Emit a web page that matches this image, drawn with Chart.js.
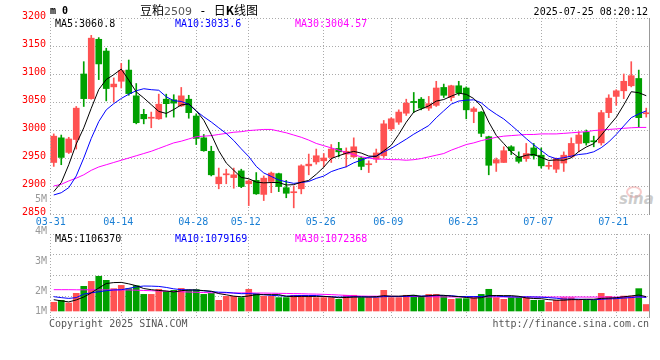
<!DOCTYPE html>
<html>
<head>
<meta charset="utf-8">
<script src="https://cdn.jsdelivr.net/npm/chart.js@4.4.1/dist/chart.umd.min.js"></script>
<style>
body { margin: 0; background: #fff; }
#wrap { position: relative; width: 660px; height: 360px; overflow: hidden; font-family: 'DejaVu Sans Mono', monospace; font-size: 10px; line-height: 10px; }
.t { position: absolute; white-space: pre; }
canvas { position: absolute; left: 0; }
</style>
</head>
<body>
<div id="wrap">
  <!-- sina watermark, under the charts -->
  <div class="t" style="left:626px;top:186px;width:12px;height:8px;border:2px solid rgba(240,160,160,0.55);border-radius:50%"></div>
  <div class="t" style="left:619px;top:192px;font:italic bold 15px 'DejaVu Sans',sans-serif;line-height:15px;color:rgba(170,170,170,0.6)">sina</div>

  <canvas id="priceChart" width="660" height="232" style="top:0"></canvas>
  <canvas id="volChart" width="660" height="128" style="top:232px"></canvas>

  <div class="t" style="left:50px;top:6px;font-weight:bold">m 0</div>
  <div class="t" style="left:140px;top:3px;line-height:14px;font-family:'Noto Sans CJK SC';font-size:12px;color:#000">豆粕<span style="font:11px 'DejaVu Sans',sans-serif;color:#555">2509</span><span style="font:12px 'DejaVu Sans Mono',monospace"> - </span>日<b>K</b>线图</div>
  <div class="t" style="right:12px;top:7px">2025-07-25 08:20:12</div>

  <div class="t" id="maMain0" style="left:55px;top:19px;color:#000"></div>
  <div class="t" id="maMain1" style="left:175px;top:19px;color:#0000ff"></div>
  <div class="t" id="maMain2" style="left:295px;top:19px;color:#ff00ff"></div>

  <div class="t" id="maVol0" style="left:55px;top:234px;color:#000"></div>
  <div class="t" id="maVol1" style="left:175px;top:234px;color:#0000ff"></div>
  <div class="t" id="maVol2" style="left:295px;top:234px;color:#ff00ff"></div>

  <div class="t" id="volLab0" style="right:613px;top:194px;color:#999"></div>
  <div class="t" id="volLab1" style="right:613px;top:226px;color:#999"></div>
  <div class="t" id="volLab2" style="right:613px;top:256px;color:#999"></div>
  <div class="t" id="volLab3" style="right:613px;top:286px;color:#999"></div>
  <div class="t" id="volLab4" style="right:613px;top:306px;color:#999"></div>

  <div class="t" style="left:49px;top:319px;color:#555">Copyright 2025 SINA.COM</div>
  <div class="t" style="right:11px;top:319px;color:#555">http://finance.sina.com.cn</div>
</div>

<script>
// trading days 2025-03-31 .. 2025-07-25
const dates = [
    '03-31','04-01','04-02','04-03','04-07','04-08','04-09','04-10','04-11',
    '04-14','04-15','04-16','04-17','04-18','04-21','04-22','04-23','04-24','04-25',
    '04-28','04-29','04-30','05-06','05-07','05-08','05-09',
    '05-12','05-13','05-14','05-15','05-16','05-19','05-20','05-21','05-22','05-23',
    '05-26','05-27','05-28','05-29','05-30','06-03','06-04','06-05','06-06',
    '06-09','06-10','06-11','06-12','06-13','06-16','06-17','06-18','06-19','06-20',
    '06-23','06-24','06-25','06-26','06-27','06-30','07-01','07-02','07-03','07-04',
    '07-07','07-08','07-09','07-10','07-11','07-14','07-15','07-16','07-17','07-18',
    '07-21','07-22','07-23','07-24','07-25'
];
const axisDates = ['03-31','04-14','04-28','05-12','05-26','06-09','06-23','07-07','07-21'];

const opens = [2942,2986,2960,2983,3100,3056,3162,3141,3077,3087,
    3107,3061,3028,3021,3020,3055,3054,3043,3055,3025,
    2986,2962,2904,2920,2915,2927,2904,2910,2885,2908,
    2922,2897,2888,2895,2936,2943,2945,2951,2967,2957,
    2952,2950,2938,2948,2954,3002,3014,3030,3051,3055,
    3039,3044,3076,3058,3079,3075,3033,3032,2988,2941,
    2942,2970,2952,2949,2968,2955,2935,2930,2941,2952,
    2976,2996,2980,2977,3031,3060,3070,3079,3092,3029];
const highs = [2993,2991,2987,3042,3122,3169,3165,3146,3093,3119,
    3125,3083,3037,3032,3064,3064,3063,3076,3062,3029,
    2992,2971,2932,2930,2932,2930,2911,2924,2918,2925,
    2923,2910,2900,2938,2957,2966,2958,2974,2978,2968,
    2986,2952,2945,2966,3017,3022,3036,3055,3067,3058,
    3060,3087,3082,3080,3087,3077,3041,3033,2989,2950,
    2970,2972,2961,2976,2976,2968,2943,2950,2961,2986,
    2997,3000,2989,3035,3063,3072,3100,3122,3107,3039];
const lows = [2935,2938,2958,2966,3042,3055,3090,3052,3050,3075,
    3062,3011,3011,3004,3019,3023,3023,3042,3021,2974,
    2962,2918,2895,2904,2896,2897,2865,2885,2874,2888,
    2890,2879,2861,2886,2920,2939,2934,2942,2952,2934,
    2951,2929,2924,2942,2951,2999,3010,3026,3031,3036,
    3035,3042,3058,3052,3062,3020,3013,2988,2920,2926,
    2942,2956,2941,2944,2948,2932,2930,2924,2926,2951,
    2961,2973,2970,2973,3022,3044,3056,3077,3005,3023];
const closes = [2989,2951,2984,3039,3056,3164,3118,3074,3082,3106,
    3065,3013,3020,3022,3046,3047,3048,3061,3031,2985,
    2963,2920,2916,2921,2920,2899,2909,2886,2914,2923,
    2899,2887,2889,2936,2939,2954,2950,2966,2961,2962,
    2970,2935,2939,2959,3011,3020,3032,3048,3049,3039,
    3047,3075,3062,3079,3066,3036,3038,2994,2937,2947,
    2963,2963,2944,2958,2954,2936,2936,2949,2955,2976,
    2991,2977,2979,3031,3057,3070,3087,3097,3022,3030];

const ma5 = [2890,2906,2938,2975,3003.8,3038.8,3072.2,3090.2,3098.8,3108.8,
    3089,3068,3057.2,3045.2,3033.2,3029.6,3036.6,3044.8,3046.6,3034.4,
    3017.6,2992,2963,2941,2928,2915.2,2913,2907,2905.6,2906.2,
    2906.2,2901.8,2902.4,2906.8,2910,2921,2933.6,2949,2954,2958.6,
    2961.8,2958.8,2953.4,2953,2962.8,2972.8,2992.2,3014,3032,3037.6,
    3043,3051.6,3054.4,3060.4,3065.8,3063.6,3056.2,3042.6,3014.2,2990.4,
    2975.8,2960.8,2950.8,2955,2956.4,2951,2945.6,2946.6,2946,2950.4,
    2961.4,2969.6,2975.6,2990.8,3007,3022.8,3044.8,3068.4,3066.6,3061.2];
const ma10 = [2884,2888,2897,2918,2950,2985,3015,3036,3047,3056.3,
    3063.9,3070.1,3073.7,3072,3071,3059.3,3052.3,3051,3045.9,3033.8,
    3023.6,3014.3,3003.9,2993.8,2981.2,2966.4,2952.5,2935,2923.3,2917.1,
    2910.7,2907.4,2904.7,2906.2,2908.1,2913.6,2917.7,2925.7,2930.4,2934.3,
    2941.4,2946.2,2951.2,2953.5,2960.7,2967.3,2975.5,2983.7,2992.5,3000.2,
    3007.9,3021.9,3034.2,3046.2,3051.7,3053.3,3053.9,3048.5,3037.3,3028.1,
    3019.7,3008.5,2996.7,2984.6,2973.4,2963.4,2953.2,2948.7,2950.5,2953.4,
    2956.2,2957.6,2961.1,2968.4,2978.7,2992.1,3007.2,3022,3028.7,3034.1];
const ma30 = [2900,2903,2909,2914,2920,2928,2934,2938,2942,2946,
    2950,2954,2958,2962,2967,2972,2977,2980,2984,2988,
    2989,2990,2992,2994,2996,2997,2999,3000,3001,3001,
    2998,2995,2991,2987,2982,2976,2972,2968,2964,2960,
    2956,2952,2950,2948,2948,2947,2947,2946,2947,2949,
    2952,2955,2958,2964,2969,2974,2977,2981,2984,2987,
    2989,2990,2991,2992,2992,2993,2993,2993,2994,2995,
    2996,2997,2999,3000,3001,3002,3003,3004,3004.6,3004.6];

const volumes = [670000,820000,620000,1360000,1900000,2280000,2670000,2360000,1720000,1970000,
    1720000,1950000,1280000,1280000,1670000,1510000,1590000,1740000,1590000,1640000,
    1280000,1360000,820000,1130000,1130000,1030000,1670000,1330000,1130000,1130000,
    1030000,1030000,1210000,1210000,1130000,1030000,1030000,1030000,900000,1210000,
    1210000,1030000,1030000,1030000,1590000,1030000,1030000,1210000,1210000,1130000,
    1280000,1280000,1130000,900000,950000,950000,1030000,1280000,1670000,1030000,
    900000,1030000,1030000,1030000,820000,820000,670000,820000,1030000,1030000,
    820000,820000,820000,1360000,1130000,1000000,1150000,1150000,1720000,500000];
const volMa5 = [870000,780000,700000,850000,1074000,1396000,1766000,2114000,2186000,2200000,
    2088000,1944000,1728000,1640000,1580000,1538000,1466000,1558000,1620000,1614000,
    1568000,1522000,1338000,1246000,1144000,1094000,1156000,1258000,1258000,1258000,
    1258000,1130000,1106000,1122000,1122000,1122000,1122000,1086000,1024000,1040000,
    1076000,1076000,1076000,1102000,1178000,1142000,1142000,1178000,1214000,1122000,
    1172000,1222000,1206000,1144000,1108000,1042000,992000,1022000,1176000,1192000,
    1182000,1182000,1132000,1004000,962000,946000,874000,832000,832000,874000,
    874000,904000,904000,970000,990000,1026000,1092000,1158000,1230000,1104000];
const volMa10 = [1100000,1030000,970000,1030000,1300000,1400000,1480000,1560000,1620000,1637000,
    1742000,1855000,1921000,1913000,1890000,1813000,1705000,1643000,1630000,1597000,
    1553000,1494000,1448000,1433000,1379000,1331000,1339000,1298000,1252000,1201000,
    1176000,1143000,1182000,1190000,1190000,1190000,1126000,1096000,1073000,1081000,
    1099000,1099000,1081000,1063000,1109000,1109000,1109000,1127000,1158000,1150000,
    1157000,1182000,1192000,1179000,1115000,1107000,1107000,1114000,1160000,1150000,
    1112000,1087000,1077000,1090000,1077000,1064000,1028000,982000,918000,918000,
    910000,889000,868000,901000,932000,950000,998000,1031000,1100000,1047000];
const volMa30 = [1640000,1640000,1640000,1630000,1630000,1630000,1630000,1620000,1620000,1620000,
    1620000,1600000,1580000,1560000,1540000,1520000,1500000,1480000,1460000,1440000,
    1420000,1400000,1400000,1400000,1390000,1390000,1390000,1380000,1380000,1370000,
    1360000,1350000,1340000,1330000,1310000,1300000,1280000,1260000,1230000,1200000,
    1170000,1150000,1140000,1140000,1130000,1130000,1120000,1110000,1110000,1100000,
    1100000,1090000,1080000,1080000,1080000,1080000,1080000,1080000,1080000,1080000,
    1080000,1080000,1080000,1075000,1075000,1075000,1075000,1075000,1075000,1075000,
    1075000,1072000,1072000,1072000,1072000,1072000,1072000,1072000,1072000,1072000];

const priceHeader = ['MA5:3060.8', 'MA10:3033.6', 'MA30:3004.57'];
const volHeader = ['MA5:1106370', 'MA10:1079169', 'MA30:1072368'];
const volTickLabels = ['5M', '4M', '3M', '2M', '1M'];

const UP = '#ff5252';
const DOWN = '#00a000';
const GRID = '#aaaaaa';
const MONO = "'DejaVu Sans Mono', monospace";

const candleColors = closes.map((c, i) => c >= opens[i] ? UP : DOWN);
const bodies = opens.map((o, i) => [o, closes[i]]);
const wicks = lows.map((l, i) => [l, highs[i]]);

priceHeader.forEach((s, i) => document.getElementById('maMain' + i).textContent = s);
volHeader.forEach((s, i) => document.getElementById('maVol' + i).textContent = s);
volTickLabels.forEach((s, i) => document.getElementById('volLab' + i).textContent = s);

// left border dotted, right border solid
const frame = {
    id: 'frame',
    afterDraw(chart) {
        const { ctx, chartArea: a } = chart;
        const l = Math.round(a.left) + 0.5;
        const r = Math.round(a.right) - 0.5;
        ctx.save();
        ctx.lineWidth = 1;
        ctx.strokeStyle = GRID;
        ctx.setLineDash([1, 2]);
        ctx.beginPath();
        ctx.moveTo(l, a.top);
        ctx.lineTo(l, a.bottom);
        ctx.stroke();
        ctx.setLineDash([]);
        ctx.strokeStyle = '#999';
        ctx.beginPath();
        ctx.moveTo(r, a.top);
        ctx.lineTo(r, a.bottom + 1);
        ctx.stroke();
        ctx.restore();
    }
};

function xScale(showLabels) {
    return {
        offset: true,
        grid: {
            offset: false,
            drawTicks: false,
            color: c => (c.index > 0 && axisDates.includes(dates[c.index])) ? GRID : 'rgba(0,0,0,0)'
        },
        border: { display: false, dash: [1, 2] },
        ticks: {
            display: showLabels,
            autoSkip: false,
            maxRotation: 0,
            padding: 2,
            labelOffset: -3,
            color: '#1a7fd4',
            font: { family: MONO, size: 10 },
            callback: (v, i) => axisDates.includes(dates[i]) ? dates[i] : ''
        }
    };
}

function maLine(data, color) {
    return { type: 'line', data: data, borderColor: color, borderWidth: 1, pointRadius: 0, tension: 0, order: 0 };
}

new Chart(document.getElementById('priceChart'), {
    type: 'bar',
    data: {
        labels: dates,
        datasets: [
            maLine(ma5, '#000000'),
            maLine(ma10, '#0000ff'),
            maLine(ma30, '#ff00ff'),
            { data: bodies, backgroundColor: candleColors, barThickness: 6, minBarLength: 1, grouped: false, order: 1 },
            { data: wicks, backgroundColor: candleColors, barThickness: 1, grouped: false, order: 2 }
        ]
    },
    options: {
        responsive: false,
        animation: false,
        layout: { padding: { top: 18, right: 10, left: 0, bottom: 0 } },
        plugins: { legend: { display: false }, tooltip: { enabled: false } },
        scales: {
            x: Object.assign(xScale(true), { afterFit: s => { s.height = 18; } }),
            y: {
                min: 2850,
                max: 3200,
                grid: { color: GRID, drawTicks: false },
                border: { display: false, dash: [1, 2] },
                ticks: {
                    stepSize: 50, padding: 4, labelOffset: -2, color: '#ff0000',
                    font: { family: MONO, size: 10 },
                    callback: v => String(v)
                },
                afterFit: s => { s.width = 50; }
            }
        }
    },
    plugins: [frame]
});

// volume panel: zero sits a few pixels above the bottom edge
const volMin = -461500;
const volMax = 5923000;

new Chart(document.getElementById('volChart'), {
    type: 'bar',
    data: {
        labels: dates,
        datasets: [
            maLine(volMa5, '#000000'),
            maLine(volMa10, '#0000ff'),
            maLine(volMa30, '#ff00ff'),
            { data: volumes, backgroundColor: candleColors, barThickness: 6, grouped: false, order: 1 }
        ]
    },
    options: {
        responsive: false,
        animation: false,
        layout: { padding: { top: 2, right: 10, left: 0, bottom: 0 } },
        plugins: { legend: { display: false }, tooltip: { enabled: false } },
        scales: {
            x: Object.assign(xScale(false), { afterFit: s => { s.height = 43; } }),
            y: {
                min: volMin,
                max: volMax,
                grid: { color: GRID, drawTicks: false },
                border: { display: false, dash: [1, 2] },
                ticks: { display: false },
                afterBuildTicks: s => {
                    const step = (volMax - volMin) / 4;
                    s.ticks = [0, 1, 2, 3, 4].map(k => ({ value: volMin + step * k }));
                },
                afterFit: s => { s.width = 50; }
            }
        }
    },
    plugins: [frame]
});
</script>
</body>
</html>
